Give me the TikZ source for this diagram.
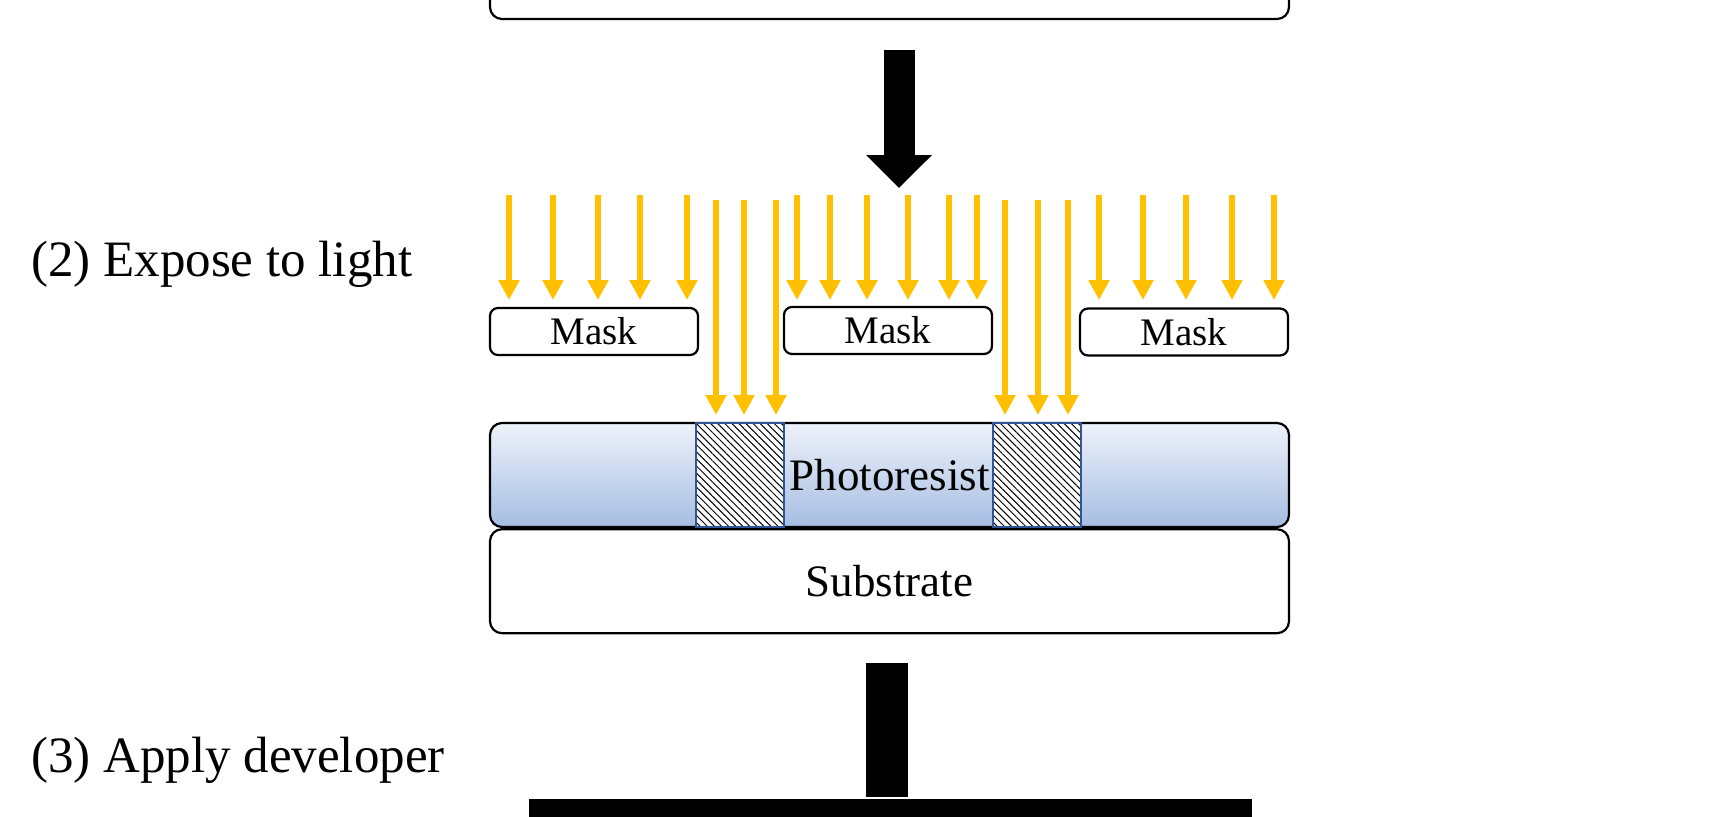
\documentclass[tikz,border=0pt]{standalone}
\usepackage{fontspec}
\setmainfont{Liberation Serif}
\usepackage{xcolor}
\usetikzlibrary{arrows.meta, positioning, patterns.meta}

\definecolor{lightray}{HTML}{FFC000}
\definecolor{resisttop}{HTML}{EEF2FA}
\definecolor{resistbot}{HTML}{A6BDE2}
\definecolor{exposeedge}{HTML}{2F5597}

\begin{document}
\begin{tikzpicture}[
      x=1pt, y=-1pt,
      layer/.style   ={rectangle, draw, line width=2.2pt, rounded corners=12pt, minimum width=799pt, minimum height=104pt, inner sep=0pt, font=\fontsize{45}{50}\selectfont},
      resist/.style  ={layer, top color=resisttop, bottom color=resistbot},
      mask/.style    ={rectangle, draw, line width=2.2pt, rounded corners=8pt, minimum width=208pt, minimum height=47pt, inner sep=0pt, font=\fontsize{39}{44}\selectfont},
      expo/.style    ={rectangle, draw=exposeedge, line width=2.2pt, preaction={fill=white}, pattern={Lines[angle=-45, distance=5pt, line width=1pt]}, minimum width=88pt, minimum height=104pt, inner sep=0pt},
      steplabel/.style={anchor=west, inner sep=0pt, font=\fontsize{51}{56}\selectfont},
      ray/.style     ={lightray, line width=5.5pt, -{Triangle[length=20pt, width=20pt]}},
      bigarrow/.style={line width=31pt, -{Triangle[length=33pt, width=64pt]}}
    ]
    \useasboundingbox (0,0) rectangle (1728,816);
    \clip (0,0) rectangle (1728,816);

    % Vorige stap (valt boven af)
    \node[layer, fill=white] (prev) at (889.5,-33) {};

    % Grote pijl naar stap 2
    \coordinate (bigS) at (899,50);
    \coordinate (bigE) at (899,188);
    \draw[bigarrow] (bigS) -- (bigE);

    % Stappen
    \node[steplabel] (expose)  at (31,264) {(2) Expose to light};
    \node[steplabel] (develop) at (31,760) {(3) Apply developer};

    % Maskers
    \node[mask] (maskL) at (594,331.5)  {Mask};
    \node[mask] (maskM) at (888,330.5)  {Mask};
    \node[mask] (maskR) at (1184,332)   {Mask};

    % Licht
    \foreach \x in {509,553,598,640,687,797,830,867,908,949,977,1099,1143,1186,1232,1274}
      \draw[ray] (\x,195) -- (\x,300);
    \foreach \x in {716,744,776,1005,1038,1068}
      \draw[ray] (\x,200) -- (\x,415);

    % Lagen
    \node[resist] (resist) at (889.5,475) {Photoresist};
    \node[layer, below=0pt of resist] (substrate) {Substrate};

    % Belichte delen
    \node[expo] (expL) at (740,475)  {};
    \node[expo] (expR) at (1037,475) {};

    % Pijl naar stap 3 (valt onder af)
    \fill (866,663) rectangle (908,797);
    \fill (529,799) rectangle (1252,830);

  \end{tikzpicture}
\end{document}
